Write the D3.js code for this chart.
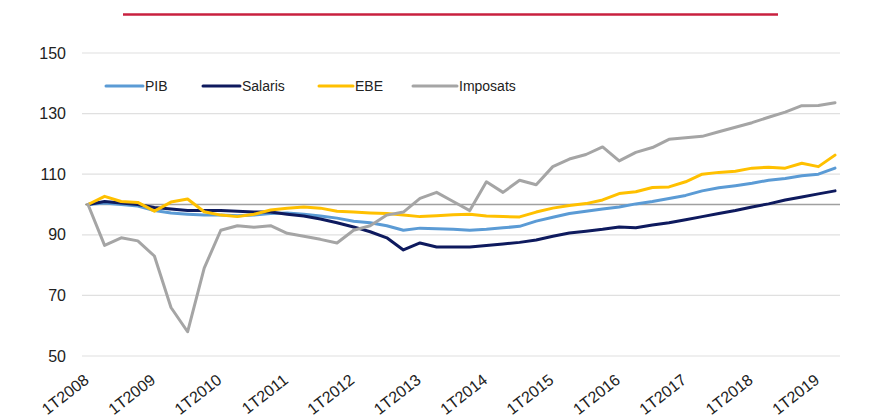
<!DOCTYPE html>
<html>
<head>
<meta charset="utf-8">
<script src="https://cdn.jsdelivr.net/npm/d3@7/dist/d3.min.js"></script>
<style>
  html, body { margin: 0; padding: 0; background: #ffffff; }
  svg { display: block; font-family: "Liberation Sans", Arial, sans-serif; }
</style>
</head>
<body>
<svg id="chart" width="877" height="417"></svg>
<script>
const quarters = [
  "1T2008","2T2008","3T2008","4T2008",
  "1T2009","2T2009","3T2009","4T2009",
  "1T2010","2T2010","3T2010","4T2010",
  "1T2011","2T2011","3T2011","4T2011",
  "1T2012","2T2012","3T2012","4T2012",
  "1T2013","2T2013","3T2013","4T2013",
  "1T2014","2T2014","3T2014","4T2014",
  "1T2015","2T2015","3T2015","4T2015",
  "1T2016","2T2016","3T2016","4T2016",
  "1T2017","2T2017","3T2017","4T2017",
  "1T2018","2T2018","3T2018","4T2018",
  "1T2019","2T2019"
];
const tickLabels = ["1T2008","1T2009","1T2010","1T2011","1T2012","1T2013","1T2014","1T2015","1T2016","1T2017","1T2018","1T2019"];
const yTicks = [50, 70, 90, 110, 130, 150];

const pib = [100,100.5,100,99.5,98,97.2,96.8,96.5,96.5,96.3,96.5,97,97.2,96.8,96.2,95.5,94.5,94,93,91.5,92.2,92,91.8,91.5,91.8,92.3,92.8,94.5,95.8,97,97.8,98.5,99.2,100.2,101,102,103,104.5,105.5,106.2,107,108,108.6,109.5,110,112];
const salaris = [100,101,100.5,100,99,98.5,98,98,98,97.8,97.5,97.5,96.8,96.2,95.2,94,92.6,91,89,85,87.3,86,86,86,86.5,87,87.5,88.3,89.5,90.6,91.2,91.8,92.6,92.3,93.2,94,95,96,97,98,99.2,100.2,101.5,102.5,103.5,104.5];
const ebe = [100,102.7,101,100.7,97.8,100.8,101.8,97.6,96.5,96,96.8,98.2,98.8,99.2,98.8,97.8,97.5,97.2,97,96.5,96,96.3,96.6,96.8,96.2,96,95.9,97.5,98.8,99.7,100.3,101.5,103.6,104.2,105.6,105.8,107.5,110,110.6,111,112,112.3,112,113.6,112.5,116.3];
const imposats = [100,86.5,89,88,83,66,58,79,91.5,93,92.5,93,90.5,89.5,88.5,87.3,91.5,93,96.5,97.5,102,104,101,98,107.5,104,108,106.5,112.5,115,116.5,119,114.4,117.2,118.8,121.5,122,122.5,124,125.5,127,128.8,130.5,132.6,132.7,133.6];

const seriesNames = ["PIB", "Salaris", "EBE", "Imposats"];
const seriesValues = [pib, salaris, ebe, imposats];
const seriesColors = ["#5B9BD5", "#0E1A5E", "#FFC000", "#A5A5A5"];

const svg = d3.select("#chart");

const x = d3.scalePoint().domain(quarters).range([88, 835]);
const y = d3.scaleLinear().domain([50, 150]).range([356, 53]);

// top red rule
svg.append("line")
  .attr("x1", 123).attr("x2", 778).attr("y1", 14.5).attr("y2", 14.5)
  .attr("stroke", "#C8203F").attr("stroke-width", 2.5);

// gridlines
svg.append("g").selectAll("line").data(yTicks).join("line")
  .attr("x1", 82).attr("x2", 840)
  .attr("y1", d => y(d)).attr("y2", d => y(d))
  .attr("stroke", "#e0e0e0").attr("stroke-width", 1.2);

// y axis labels
const yAxis = d3.axisLeft(y).tickValues(yTicks).tickSize(0).tickPadding(0);
const yg = svg.append("g").attr("transform", "translate(66,0)").call(yAxis);
yg.select(".domain").remove();
yg.selectAll("text").attr("font-size", 16).attr("fill", "#222").attr("font-family", "Liberation Sans, Arial, sans-serif");

// reference line at 100
svg.append("line")
  .attr("x1", 85).attr("x2", 840)
  .attr("y1", y(100)).attr("y2", y(100))
  .attr("stroke", "#a0a0a0").attr("stroke-width", 1.5);

// x axis labels
const xAxis = d3.axisBottom(x).tickValues(tickLabels).tickSize(0).tickPadding(0);
const xg = svg.append("g").call(xAxis);
xg.select(".domain").remove();
xg.selectAll(".tick").attr("transform", d => `translate(${x(d) + 2},382)`);
xg.selectAll("text")
  .attr("y", 0).attr("dy", 0).attr("x", 0)
  .attr("text-anchor", "end")
  .attr("transform", "rotate(-38)")
  .attr("font-size", 16).attr("fill", "#222")
  .attr("font-family", "Liberation Sans, Arial, sans-serif");

// series
const line = d3.line().x((d, i) => x(quarters[i])).y(d => y(d)).curve(d3.curveLinear);
svg.append("g").selectAll("path").data(seriesValues).join("path")
  .attr("d", d => line(d))
  .attr("fill", "none")
  .attr("stroke", (d, i) => seriesColors[i])
  .attr("stroke-width", 3)
  .attr("stroke-linejoin", "round")
  .attr("stroke-linecap", "round");

// legend
const legendX = [106, 203, 319, 413];
const legendW = [37, 37, 34, 44];
const lg = svg.append("g").selectAll("g").data(seriesNames).join("g")
  .attr("transform", (d, i) => `translate(${legendX[i]},86)`);
lg.append("line")
  .attr("x1", 0).attr("x2", (d, i) => legendW[i]).attr("y1", 0).attr("y2", 0)
  .attr("stroke", (d, i) => seriesColors[i]).attr("stroke-width", 3)
  .attr("stroke-linecap", "round");
lg.append("text")
  .attr("x", (d, i) => legendW[i] + 2).attr("y", 5)
  .attr("font-size", 14).attr("fill", "#222")
  .text(d => d);
</script>
</body>
</html>
